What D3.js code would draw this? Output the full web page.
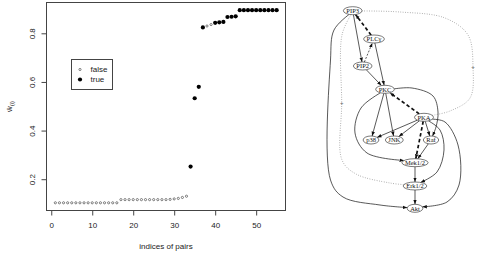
<!DOCTYPE html>
<html lang="en">
<head>
<meta charset="utf-8">
<title>Edge weights and network</title>
<script src="https://cdn.jsdelivr.net/npm/d3@7/dist/d3.min.js"></script>
<style>
  body { margin: 0; background: #fff; }
  svg { display: block; }
  .axis text, .lab { font-family: "Liberation Sans", Arial, sans-serif; font-size: 8px; fill: #222; }
  .axis line { stroke: #444; }
  .node text { font-family: "Liberation Serif", "Times New Roman", serif; font-size: 6.5px; fill: #111; }
</style>
</head>
<body>
<script>
  // sorted weights of the 55 node pairs
  var weights = [
    0.103, 0.103, 0.103, 0.103, 0.103, 0.103, 0.103, 0.103,
    0.103, 0.103, 0.103, 0.103, 0.103, 0.103, 0.103, 0.103,
    0.116, 0.116, 0.116, 0.116, 0.116, 0.116, 0.116, 0.116,
    0.116, 0.116, 0.116, 0.116, 0.117, 0.119, 0.121, 0.125, 0.130,
    0.252, 0.533, 0.580, 0.824, 0.830, 0.836,
    0.843, 0.845, 0.847, 0.867, 0.868, 0.870,
    0.895, 0.895, 0.895, 0.895, 0.895, 0.895, 0.895, 0.895, 0.895, 0.895
  ];
  // pair indices that are edges of the true network
  var trueIdx = [34, 35, 36, 37, 40, 41, 42, 43, 44, 45, 46, 47, 48, 49, 50, 51, 52, 53, 54, 55];
  var xTicks = [0, 10, 20, 30, 40, 50];
  var yTicks = [0.2, 0.4, 0.6, 0.8];
  var legendKeys = ["false", "true"];

  // network
  var nodeNames = ["PIP3", "PLC\u03b3", "PIP2", "PKC", "PKA", "p38", "JNK", "Raf", "Mek1/2", "Erk1/2", "Akt"];
  var edges = [
    ["PIP3", "PIP2", "solid"],
    ["PLC\u03b3", "PIP3", "bold"],
    ["PIP2", "PLC\u03b3", "dash"],
    ["PIP2", "PKC", "solid"],
    ["PLC\u03b3", "PKC", "solid"],
    ["PKA", "PKC", "bold"],
    ["PKC", "p38", "solid"],
    ["PKC", "JNK", "solid"],
    ["PKC", "Raf", "solid"],
    ["PKC", "Mek1/2", "solid"],
    ["PKA", "p38", "solid"],
    ["PKA", "JNK", "solid"],
    ["PKA", "Raf", "solid"],
    ["PKA", "Mek1/2", "bold"],
    ["PKA", "Erk1/2", "solid"],
    ["PKA", "Akt", "solid"],
    ["Raf", "Mek1/2", "solid"],
    ["Mek1/2", "Erk1/2", "solid"],
    ["Erk1/2", "Akt", "solid"],
    ["PIP3", "Akt", "solid"],
    ["PIP3", "Erk1/2", "dot"],
    ["PIP3", "PKA", "dot"]
  ];

  // graph layout, in layout units
  var layout = {
    "PIP3": [27.7, 10.7], "PLC\u03b3": [49, 39], "PIP2": [37.7, 66], "PKC": [60, 89.3],
    "PKA": [99, 117.3], "p38": [46, 140], "JNK": [69.3, 140], "Raf": [106, 140],
    "Mek1/2": [90, 162.7], "Erk1/2": [90, 186], "Akt": [90, 208.3]
  };
  var bends = {
    "PKC-Raf": [[87, 88], [108, 96], [113, 112], [111, 127]],
    "PKC-Mek1/2": [[36, 108], [30, 133], [42, 153]],
    "PKA-Erk1/2": [[115, 130], [119, 150], [112, 172]],
    "PKA-Akt": [[120, 122], [133, 145], [134, 185], [122, 202]],
    "PIP3-Akt": [[9, 30], [5.5, 60], [5.5, 180], [18, 197], [55, 205]],
    "PIP3-Erk1/2": [[17, 35], [16.7, 103], [17, 160], [31, 174], [65, 183]],
    "PIP3-PKA": [[75, 12], [120, 18], [143, 35], [148, 67], [145, 98], [125, 111]]
  };
  var edgeMarks = [["PIP3-Erk1/2", 1], ["PIP3-PKA", 3]];

  var W = 477, H = 255;
  var svg = d3.select("body").append("svg").attr("width", W).attr("height", H);
  svg.append("rect").attr("width", W).attr("height", H).attr("fill", "#fff");

  // ---------- scatter ----------
  var data = weights.map(function(w, i) {
    return { idx: i + 1, w: w, truth: trueIdx.indexOf(i + 1) >= 0 };
  });
  var xr = [1, data.length], yr = d3.extent(weights);
  var xpad = (xr[1] - xr[0]) * 0.04, ypad = (yr[1] - yr[0]) * 0.04;

  var x = d3.scaleLinear().domain([xr[0] - xpad, xr[1] + xpad]).range([46.5, 285.5]);
  var y = d3.scaleLinear().domain([yr[0] - ypad, yr[1] + ypad]).range([210.5, 2.5]);

  svg.append("g")
    .attr("class", "axis")
    .attr("transform", "translate(0," + y.range()[0] + ")")
    .call(d3.axisBottom(x).tickValues(xTicks).tickSize(5).tickPadding(7))
    .call(function(g) { g.select(".domain").remove(); });

  var yAxis = svg.append("g")
    .attr("class", "axis")
    .attr("transform", "translate(" + x.range()[0] + ",0)")
    .call(d3.axisLeft(y).tickValues(yTicks).tickSize(5).tickFormat(d3.format(".1f")))
    .call(function(g) { g.select(".domain").remove(); });
  yAxis.selectAll("text")
    .attr("x", null).attr("dy", null)
    .attr("text-anchor", "middle")
    .attr("transform", "translate(-12,0) rotate(-90)");

  svg.append("rect")
    .attr("x", x.range()[0]).attr("y", y.range()[1])
    .attr("width", x.range()[1] - x.range()[0])
    .attr("height", y.range()[0] - y.range()[1])
    .attr("fill", "none").attr("stroke", "#444");

  svg.selectAll(".pt")
    .data(data)
    .enter().append("circle")
    .attr("class", "pt")
    .attr("cx", function(d) { return x(d.idx); })
    .attr("cy", function(d) { return y(d.w); })
    .attr("r", function(d) { return d.truth ? 2.1 : 1.1; })
    .attr("fill", function(d) { return d.truth ? "#000" : "none"; })
    .attr("stroke", function(d) { return d.truth ? "none" : "#333"; })
    .attr("stroke-width", 0.6);

  svg.append("text").attr("class", "lab")
    .attr("x", (x.range()[0] + x.range()[1]) / 2).attr("y", 249)
    .attr("text-anchor", "middle")
    .text("indices of pairs");

  var ylab = svg.append("text").attr("class", "lab")
    .attr("text-anchor", "middle")
    .attr("transform", "translate(12," + (y.range()[0] + y.range()[1]) / 2 + ") rotate(-90)");
  ylab.append("tspan").text("\u0175");
  ylab.append("tspan").attr("font-size", "6px").attr("dy", 1.5).text("(i)");

  // legend
  var lg = svg.append("g").attr("transform", "translate(71.5,59.5)");
  lg.append("rect").attr("width", 41).attr("height", 30)
    .attr("fill", "#fff").attr("stroke", "#444");
  var li = lg.selectAll(".li").data(legendKeys).enter().append("g")
    .attr("transform", function(d, i) { return "translate(0," + (10 + i * 10) + ")"; });
  li.append("circle").attr("cx", 8.5)
    .attr("r", function(d) { return d == "true" ? 2.1 : 1.1; })
    .attr("fill", function(d) { return d == "true" ? "#000" : "none"; })
    .attr("stroke", function(d) { return d == "true" ? "none" : "#333"; })
    .attr("stroke-width", 0.6);
  li.append("text").attr("class", "lab").attr("x", 19).attr("dy", "0.33em")
    .text(function(d) { return d; });

  // ---------- network ----------
  var gx = d3.scaleLinear().domain([0, 150]).range([325, 475]);
  var gy = d3.scaleLinear().domain([0, 210]).range([0, 210]);

  var defs = svg.append("defs");
  defs.append("marker").attr("id", "arr")
    .attr("viewBox", "0 -3 6 6").attr("refX", 6).attr("refY", 0)
    .attr("markerWidth", 4.5).attr("markerHeight", 4.5)
    .attr("markerUnits", "userSpaceOnUse").attr("orient", "auto")
    .append("path").attr("d", "M0,-2.3L6,0L0,2.3Z").attr("fill", "#111");

  var edgeLayer = svg.append("g");
  var nodeLayer = svg.append("g");

  var nodeInfo = {};
  var ng = nodeLayer.selectAll(".node").data(nodeNames).enter().append("g")
    .attr("class", "node")
    .attr("transform", function(d) { return "translate(" + gx(layout[d][0]) + "," + gy(layout[d][1]) + ")"; });
  ng.append("text").attr("text-anchor", "middle").attr("dy", "0.34em")
    .text(function(d) { return d; });
  ng.each(function(d) {
    var len = this.querySelector("text").getComputedTextLength();
    nodeInfo[d] = { cx: gx(layout[d][0]), cy: gy(layout[d][1]), rx: len / 2 + 3, ry: 4 };
  });
  ng.insert("ellipse", "text")
    .attr("rx", function(d) { return nodeInfo[d].rx; })
    .attr("ry", function(d) { return nodeInfo[d].ry; })
    .attr("fill", "#fff").attr("stroke", "#222").attr("stroke-width", 0.6);

  function clip(n, p) {
    var dx = p[0] - n.cx, dy = p[1] - n.cy;
    var t = 1 / Math.sqrt((dx / n.rx) * (dx / n.rx) + (dy / n.ry) * (dy / n.ry));
    return [n.cx + dx * t, n.cy + dy * t];
  }

  var line = d3.line().curve(d3.curveCatmullRom.alpha(0.5));
  var styles = {
    solid: { w: 0.7, dash: null, c: "#111", arrow: true },
    dash: { w: 0.7, dash: "2,1.5", c: "#111", arrow: true },
    bold: { w: 1.7, dash: "3.5,2.5", c: "#111", arrow: true },
    dot: { w: 0.7, dash: "0.8,1.6", c: "#777", arrow: false }
  };

  edges.forEach(function(e) {
    var s = nodeInfo[e[0]], t = nodeInfo[e[1]];
    var via = (bends[e[0] + "-" + e[1]] || []).map(function(p) { return [gx(p[0]), gy(p[1])]; });
    var first = via.length ? via[0] : [t.cx, t.cy];
    var last = via.length ? via[via.length - 1] : [s.cx, s.cy];
    var pts = [clip(s, first)].concat(via, [clip(t, last)]);
    var st = styles[e[2]];
    edgeLayer.append("path")
      .attr("d", line(pts))
      .attr("fill", "none")
      .attr("stroke", st.c)
      .attr("stroke-width", st.w)
      .attr("stroke-dasharray", st.dash)
      .attr("marker-end", st.arrow ? "url(#arr)" : null);
  });

  edgeMarks.forEach(function(m) {
    var p = bends[m[0]][m[1]];
    edgeLayer.append("text")
      .attr("x", gx(p[0])).attr("y", gy(p[1])).attr("dy", "0.35em")
      .attr("text-anchor", "middle")
      .attr("font-family", "Liberation Sans, sans-serif").attr("font-size", 6)
      .attr("fill", "#666")
      .text("+");
  });
</script>
</body>
</html>
